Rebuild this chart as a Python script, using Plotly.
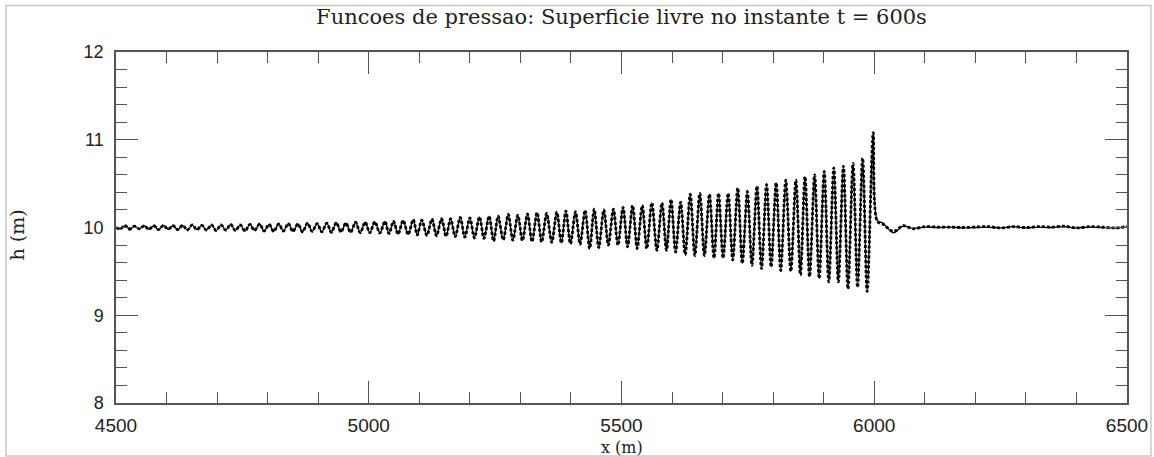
import plotly.graph_objects as go

# ---------------- data ----------------
crest_x = [4518, 4537, 4556, 4575, 4594, 4613, 4632, 4651, 4670, 4689, 4708, 4727, 4746,
           4765, 4784, 4803, 4822, 4841, 4860, 4879, 4898, 4917, 4936, 4955, 4974, 4993,
           5012, 5032, 5049, 5068, 5088, 5105, 5125, 5144, 5162, 5181, 5200, 5219, 5238,
           5256, 5276, 5295, 5314, 5333, 5352, 5372, 5390, 5409, 5428, 5446, 5465, 5484,
           5503, 5522, 5541, 5560, 5580, 5598, 5617, 5636, 5655, 5674, 5692, 5711, 5730,
           5749, 5768, 5787, 5806, 5825, 5845, 5863, 5882, 5901, 5920, 5939, 5958, 5977, 5998]
crest_h = [10.02, 10.015, 10.02, 10.02, 10.025, 10.02, 10.025, 10.03, 10.025, 10.03, 10.03,
           10.035, 10.03, 10.035, 10.04, 10.035, 10.04, 10.045, 10.04, 10.05, 10.045, 10.05,
           10.055, 10.05, 10.06, 10.06,
           10.065, 10.07, 10.07, 10.08, 10.09, 10.085, 10.095, 10.10, 10.10, 10.115, 10.11,
           10.12, 10.13, 10.13, 10.15, 10.14, 10.155, 10.17, 10.16, 10.175, 10.19, 10.18,
           10.195, 10.21, 10.20, 10.21,
           10.23, 10.25, 10.25, 10.28, 10.28, 10.32, 10.29, 10.38, 10.39, 10.38, 10.39, 10.39,
           10.45, 10.41, 10.47, 10.49, 10.51, 10.54, 10.54, 10.58, 10.60, 10.64, 10.68, 10.70,
           10.73, 10.79, 11.08]
trough_x = [4508, 4527, 4546, 4565, 4584, 4603, 4622, 4641, 4660, 4679, 4698, 4717, 4736,
            4755, 4774, 4793, 4812, 4831, 4850, 4869, 4888, 4907, 4926, 4945, 4964, 4983,
            5002, 5022, 5040, 5058, 5078, 5096, 5115, 5134, 5153, 5171, 5190, 5209, 5228,
            5247, 5266, 5285, 5304, 5323, 5342, 5362, 5381, 5399, 5418, 5437, 5455, 5474,
            5493, 5512, 5531, 5550, 5570, 5589, 5607, 5626, 5645, 5664, 5683, 5701, 5720,
            5739, 5758, 5777, 5796, 5815, 5835, 5854, 5872, 5891, 5910, 5929, 5948, 5967, 5986]
trough_h = [9.985, 9.98, 9.985, 9.98, 9.975, 9.98, 9.975, 9.97, 9.975, 9.97, 9.965, 9.97,
            9.965, 9.96, 9.965, 9.96, 9.955, 9.96, 9.955, 9.95, 9.955, 9.95, 9.945, 9.95,
            9.945, 9.94,
            9.94, 9.935, 9.93, 9.925, 9.92, 9.915, 9.91, 9.905, 9.90, 9.895, 9.89, 9.88,
            9.875, 9.845, 9.86, 9.855, 9.85, 9.84, 9.835, 9.83, 9.825, 9.815, 9.81, 9.76,
            9.77, 9.80,
            9.80, 9.78, 9.76, 9.76, 9.74, 9.74, 9.72, 9.69, 9.68, 9.68, 9.65, 9.65, 9.63,
            9.59, 9.57, 9.53, 9.55, 9.51, 9.50, 9.46, 9.44, 9.42, 9.38, 9.38, 9.30, 9.32, 9.27]
start_x = [4500]
start_h = [10.0]
tail_x = [6006, 6017, 6038, 6057, 6077, 6100, 6125, 6150, 6175, 6200, 6225, 6250, 6275,
          6300, 6325, 6350, 6375, 6400, 6425, 6450, 6475, 6500]
tail_h_solid = [10.08, 10.05, 9.94, 10.015, 9.99, 10.005, 10.0, 10.005, 9.995, 10.0, 10.005,
                9.995, 10.01, 9.995, 10.005, 10.0, 10.01, 9.995, 10.005, 10.0, 9.995, 10.005]
tail_h_dashed = [10.07, 10.04, 9.955, 10.02, 9.985, 10.01, 10.005, 10.005, 10.0, 10.005,
                 10.01, 9.995, 10.01, 10.0, 10.01, 10.005, 10.015, 9.995, 10.01, 10.005,
                 9.995, 10.01]

title_text = "Funcoes de pressao: Superficie livre no instante t = 600s"
x_title = "x (m)"
y_title = "h (m)"
x_ticks = [4500, 5000, 5500, 6000, 6500]
y_ticks = [8, 9, 10, 11, 12]

# ---------------- build the traces ----------------
wave_x, wave_h = list(start_x), list(start_h)
for tx, th, cx, ch in zip(trough_x, trough_h, crest_x, crest_h):
    wave_x += [tx, cx]
    wave_h += [th, ch]

x_solid = wave_x + tail_x
h_solid = wave_h + tail_h_solid
x_dash = wave_x + tail_x
h_dash = wave_h + tail_h_dashed

fig = go.Figure()
fig.add_trace(go.Scatter(x=x_solid, y=h_solid, mode="lines",
                         line=dict(color="black", width=1.3, shape="spline", smoothing=0.9),
                         showlegend=False, hoverinfo="skip"))
fig.add_trace(go.Scatter(x=x_dash, y=h_dash, mode="lines",
                         line=dict(color="black", width=2.8, dash="3px,2px",
                                   shape="spline", smoothing=0.9),
                         showlegend=False, hoverinfo="skip"))

serif = "DejaVu Serif"
sans = "Liberation Sans"
axis_col = "#555555"
txt_col = "#222222"

fig.update_layout(
    width=1154, height=457,
    margin=dict(l=116, r=27, t=52, b=54, autoexpand=False),
    paper_bgcolor="white", plot_bgcolor="white",
    title=dict(text=title_text, x=0.5, xref="paper", xanchor="center",
               y=0.963, yanchor="middle",
               font=dict(family=serif, size=21, color=txt_col)),
    xaxis=dict(range=[4500, 6500], tickvals=x_ticks, ticks="inside", ticklen=22, tickwidth=1.3,
               tickcolor=axis_col, showline=True, linecolor=axis_col, linewidth=1.5,
               mirror="allticks", showgrid=False, zeroline=False, automargin=False,
               ticklabelstandoff=4,
               minor=dict(dtick=100, ticks="inside", ticklen=11, tickwidth=1.2,
                          tickcolor=axis_col, showgrid=False),
               tickfont=dict(family=sans, size=19, color=txt_col)),
    yaxis=dict(range=[8, 12], tickvals=y_ticks, ticks="inside", ticklen=22, tickwidth=1.3,
               tickcolor=axis_col, showline=True, linecolor=axis_col, linewidth=1.5,
               mirror="allticks", showgrid=False, zeroline=False, automargin=False,
               ticklabelstandoff=7,
               minor=dict(dtick=0.2, ticks="inside", ticklen=11, tickwidth=1.2,
                          tickcolor=axis_col, showgrid=False),
               tickfont=dict(family=sans, size=18, color=txt_col)),
    annotations=[
        dict(text=x_title, xref="paper", yref="paper", x=0.5, y=-0.1255,
             xanchor="center", yanchor="middle", showarrow=False,
             font=dict(family=serif, size=16, color=txt_col)),
        dict(text=y_title, xref="paper", yref="paper", x=-0.098, y=0.48,
             xanchor="center", yanchor="middle", showarrow=False, textangle=-90,
             font=dict(family=serif, size=19, color=txt_col)),
    ],
    shapes=[dict(type="rect", xref="paper", yref="paper",
                 x0=-0.1088, x1=1.0237, y0=-0.151, y1=1.1327,
                 line=dict(color="#c8c8c8", width=1.5), layer="below")],
)

fig.write_html("out.html", config={"displayModeBar": False},
               post_script="document.body.style.margin='0px';")
